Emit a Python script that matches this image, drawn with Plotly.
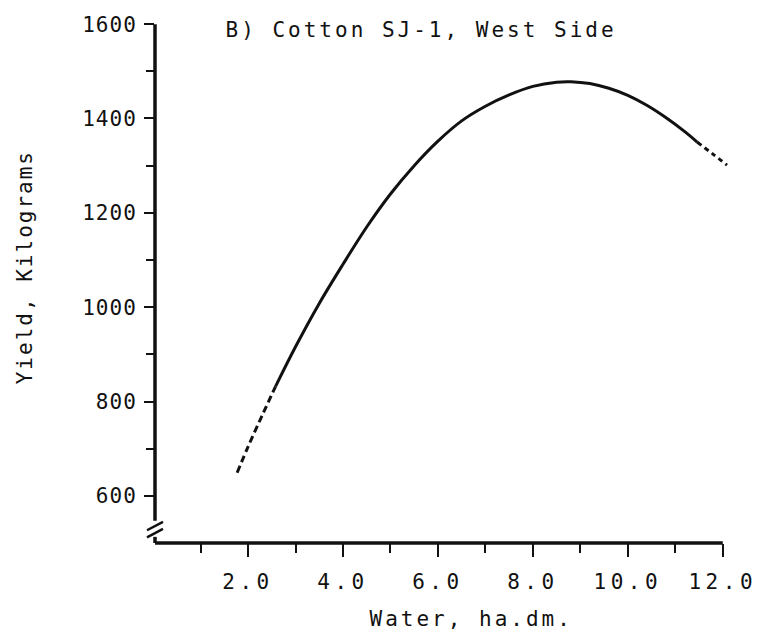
import plotly.graph_objects as go

# ---- data ----
solid_x = [2.58, 3.0, 3.5, 4.0, 4.5, 5.0, 5.5, 6.0, 6.5, 7.0, 7.5, 8.0, 8.5, 8.8,
           9.2, 9.6, 10.0, 10.4, 10.8, 11.2, 11.46]
solid_y = [832, 916, 1008, 1091, 1170, 1240, 1300, 1352, 1395, 1426, 1450, 1468,
           1477, 1478, 1474, 1464, 1449, 1428, 1402, 1372, 1350]
dash_left_x = [1.77, 2.0, 2.3, 2.58]
dash_left_y = [649, 704, 771, 832]
dash_right_x = [11.46, 11.8, 12.09]
dash_right_y = [1350, 1324, 1301]

x_major = [2, 4, 6, 8, 10, 12]
x_major_text = ["2.0", "4.0", "6.0", "8.0", "10.0", "12.0"]
x_minor = [1, 3, 5, 7, 9, 11]
y_major = [600, 800, 1000, 1200, 1400, 1600]
y_major_text = ["600", "800", "1000", "1200", "1400", "1600"]
y_minor = [700, 900, 1100, 1300, 1500]

title_text = "B) Cotton SJ-1, West Side"
x_title = "Water, ha.dm."
y_title = "Yield, Kilograms"

# ---- layout geometry ----
WIDTH, HEIGHT = 767, 643
XR = [0.04, 12.3]
YR = [500, 1630]
L, R, T, B = 154.9, 29.75, 9.8, 100
PW = WIDTH - L - R
PH = HEIGHT - T - B


def xp(v):
    return (v - XR[0]) / (XR[1] - XR[0])


def yp(v):
    return (v - YR[0]) / (YR[1] - YR[0])


def px_x(p):
    return (p - L) / PW


def px_y(p):
    return (HEIGHT - B - p) / PH


FONT = "DejaVu Sans Mono"
FS = 21
BLACK = "#111111"

fig = go.Figure()
fig.add_trace(go.Scatter(x=solid_x, y=solid_y, mode="lines",
                         line=dict(color=BLACK, width=3, shape="spline"),
                         showlegend=False, hoverinfo="skip"))
fig.add_trace(go.Scatter(x=dash_left_x, y=dash_left_y, mode="lines",
                         line=dict(color=BLACK, width=3, dash="7px,4px", shape="spline"),
                         showlegend=False, hoverinfo="skip"))
fig.add_trace(go.Scatter(x=dash_right_x, y=dash_right_y, mode="lines",
                         line=dict(color=BLACK, width=3, dash="5px,4px", shape="spline"),
                         showlegend=False, hoverinfo="skip"))

shapes = []
# x axis line (ends at 12.0)
shapes.append(dict(type="line", xref="paper", yref="paper",
                   x0=0, x1=xp(12.0), y0=0, y1=0,
                   line=dict(color=BLACK, width=3.5)))
# y axis line with a break near the bottom
brk_top, brk_bot = 547, 513
shapes.append(dict(type="line", xref="paper", yref="paper",
                   x0=0, x1=0, y0=yp(1600), y1=yp(brk_top),
                   line=dict(color=BLACK, width=3.5)))
shapes.append(dict(type="line", xref="paper", yref="paper",
                   x0=0, x1=0, y0=yp(brk_bot), y1=0,
                   line=dict(color=BLACK, width=3.5)))
# break marks
dx = 8 / PW
for yc in [536, 521]:
    shapes.append(dict(type="line", xref="paper", yref="paper",
                       x0=-dx, x1=dx, y0=yp(yc - 9), y1=yp(yc + 9),
                       line=dict(color=BLACK, width=2.5)))

annotations = [
    dict(text=title_text, xref="paper", yref="paper",
         x=px_x(421), y=px_y(30),
         xanchor="center", yanchor="middle", showarrow=False,
         font=dict(family=FONT, size=FS, color=BLACK)),
    dict(text=x_title, xref="paper", yref="paper",
         x=px_x(471), y=px_y(619),
         xanchor="center", yanchor="middle", showarrow=False,
         font=dict(family=FONT, size=FS, color=BLACK)),
    dict(text=y_title, xref="paper", yref="paper",
         x=px_x(25), y=px_y(267),
         xanchor="center", yanchor="middle", showarrow=False, textangle=-90,
         font=dict(family=FONT, size=FS, color=BLACK)),
]

fig.update_layout(
    width=WIDTH, height=HEIGHT,
    margin=dict(l=L, r=R, t=T, b=B, pad=0),
    paper_bgcolor="white", plot_bgcolor="white",
    font=dict(family=FONT, color=BLACK, size=FS),
    shapes=shapes, annotations=annotations,
    xaxis=dict(range=XR, showgrid=False, zeroline=False, showline=False,
               tickmode="array", tickvals=x_major, ticktext=x_major_text,
               ticks="outside", ticklen=13, tickwidth=2, tickcolor=BLACK,
               ticklabelstandoff=7,
               tickfont=dict(family=FONT, size=FS, color=BLACK),
               minor=dict(tickmode="array", tickvals=x_minor,
                          ticks="outside", ticklen=9, tickwidth=2, tickcolor=BLACK,
                          showgrid=False)),
    yaxis=dict(range=YR, showgrid=False, zeroline=False, showline=False,
               tickmode="array", tickvals=y_major, ticktext=y_major_text,
               ticks="outside", ticklen=10, tickwidth=2, tickcolor=BLACK,
               ticklabelstandoff=3,
               tickfont=dict(family=FONT, size=FS, color=BLACK),
               minor=dict(tickmode="array", tickvals=y_minor,
                          ticks="outside", ticklen=8, tickwidth=2, tickcolor=BLACK,
                          showgrid=False)),
)

post = """
var gd = document.getElementById('{plot_id}');
function sp(sel, v) {
  gd.querySelectorAll(sel).forEach(function (t) {
    t.style.letterSpacing = v;
    t.setAttribute('letter-spacing', v);
  });
}
sp('.xtick text', '4.5px');
sp('.ytick text', '1px');
sp('.annotation[data-index="0"] text', '3px');
sp('.annotation[data-index="1"] text', '3px');
sp('.annotation[data-index="2"] text', '2px');
"""

fig.write_html("out.html", post_script=post)
